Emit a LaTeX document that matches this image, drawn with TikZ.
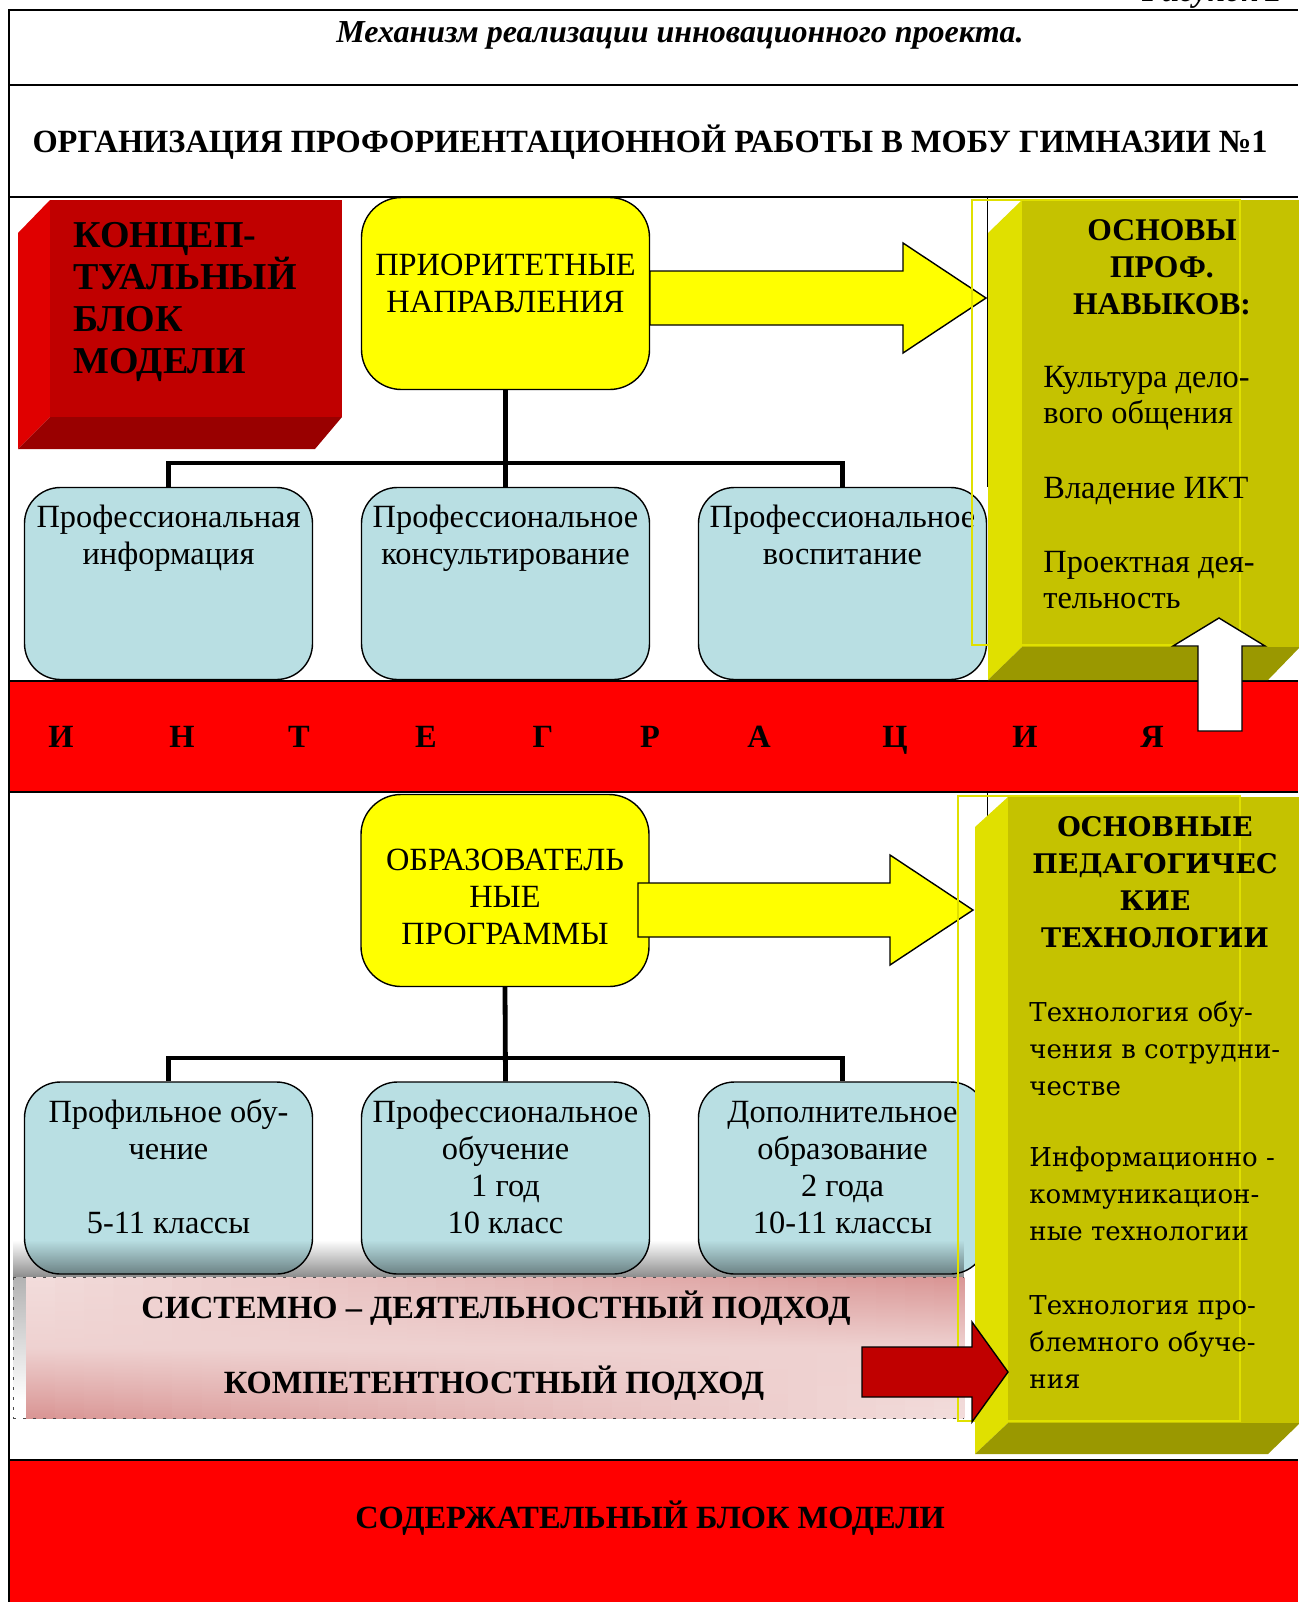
\documentclass[tikz,border=0pt]{standalone}
\usepackage{fontspec}
\setmainfont{Liberation Serif}
\newfontfamily\wideserif{DejaVu Serif}
\usetikzlibrary{positioning,calc,fadings}

\definecolor{conceptfront}{HTML}{C00000}
\definecolor{conceptside}{HTML}{E00000}
\definecolor{conceptbottom}{HTML}{990000}
\definecolor{olivefront}{HTML}{C5C200}
\definecolor{oliveside}{HTML}{E0E000}
\definecolor{olivebottom}{HTML}{9A9800}
\definecolor{boxblue}{HTML}{B9DFE3}
\definecolor{boxyellow}{HTML}{FFFF00}
\definecolor{bandred}{HTML}{FF0000}
\definecolor{pinkdark}{HTML}{D99594}
\definecolor{pinklight}{HTML}{F2DCDB}

\begin{document}
\begin{tikzpicture}[x=0.5pt,y=-0.5pt,
    frameline/.style={line width=1.2pt},
    treeline/.style={line width=2.4pt},
    yellowbox/.style={draw, fill=boxyellow, rounded corners=20pt, line width=0.7pt, minimum width=144pt, minimum height=96pt, inner sep=0pt},
    bluebox/.style={draw, fill=boxblue, rounded corners=18pt, line width=0.7pt, minimum width=144pt, minimum height=96pt, inner sep=0pt},
    blockarrow/.style={draw, line width=0.7pt},
    boxtext/.style={font=\fontsize{16.2}{18.4}\selectfont, align=center, anchor=base, inner sep=0pt},
    capstext/.style={font=\bfseries\fontsize{16.2}{19}\selectfont, anchor=base, inner sep=0pt},
    titletext/.style={font=\bfseries\itshape\fontsize{16}{19}\selectfont, anchor=base, inner sep=0pt},
    concepttext/.style={font=\bfseries\fontsize{19}{21}\selectfont, align=left, anchor=base west, inner sep=0pt},
    skillhead/.style={font=\bfseries\fontsize{15.8}{18.5}\selectfont, align=center, anchor=base, inner sep=0pt},
    skillitem/.style={font=\fontsize{16.2}{17.8}\selectfont, align=left, anchor=base west, inner sep=0pt},
    techhead/.style={font=\wideserif\bfseries\fontsize{13.5}{18.5}\selectfont, align=center, anchor=base, inner sep=0pt},
    techitem/.style={font=\wideserif\fontsize{13}{18.5}\selectfont, align=left, anchor=base west, inner sep=0pt}
  ]
  \useasboundingbox (0,0) rectangle (1298,1602);

  % red bands and frame
  \fill[bandred] (9,681) rectangle (1298,792);
  \fill[bandred] (9,1460) rectangle (1298,1602);
  \draw[frameline] (9,1602) -- (9,10) -- (1298,10);
  \foreach \y in {85,197,681,792,1460} \draw[frameline] (9,\y) -- (1298,\y);

  \node[titletext, anchor=base east] (figno) at (1282,1) {Рисунок 2};
  \node[titletext] (title) at (680,42) {Механизм реализации инновационного проекта.};
  \node[capstext] (org) at (650,152) {ОРГАНИЗАЦИЯ ПРОФОРИЕНТАЦИОННОЙ РАБОТЫ В МОБУ ГИМНАЗИИ №1};

  % conceptual block
  \fill[conceptside] (50,200) -- (18,233) -- (18,449) -- (50,417) -- cycle;
  \fill[conceptbottom] (50,417) -- (342,417) -- (315,449) -- (18,449) -- cycle;
  \fill[conceptfront] (50,200) rectangle (342,417);
  \node[concepttext] (concept) at (73,373) {КОНЦЕП-\\ТУАЛЬНЫЙ\\БЛОК\\МОДЕЛИ};

  % priority directions
  \draw[line width=0.5pt] (987,197) -- (987,487);
  \node[yellowbox] (prio) at (505.5,293.5) {};
  \node[bluebox] (info) at (168.5,583.5) {};
  \node[bluebox] (cons) at (505.5,583.5) {};
  \node[bluebox] (vosp) at (842.5,583.5) {};
  \coordinate (fork1) at (505.5,463);
  \draw[treeline] (prio.south) -- (cons.north);
  \draw[treeline] (info.north) |- (fork1) -| (vosp.north);
  \node[boxtext] (priotxt) at (prio.center |- 0,312) {ПРИОРИТЕТНЫЕ\\НАПРАВЛЕНИЯ};
  \node[boxtext] (infotxt) at (info.center |- 0,564) {Профессиональная\\информация};
  \node[boxtext] (constxt) at (cons.center |- 0,564) {Профессиональное\\консультирование};
  \node[boxtext] (vosptxt) at (vosp.center |- 0,564) {Профессиональное\\воспитание};
  \draw[blockarrow, fill=boxyellow] (650,271) -- (903,271) -- (903,243) -- (986,298) -- (903,353) -- (903,325) -- (650,325) -- cycle;

  % skills block
  \fill[oliveside] (1022,200) -- (988,233) -- (988,680) -- (1022,647) -- cycle;
  \fill[olivebottom] (1022,647) -- (1300,647) -- (1268,680) -- (988,680) -- cycle;
  \fill[olivefront] (1022,200) rectangle (1300,647);
  \draw[oliveside, line width=1pt] (972,200) rectangle (1240,645);
  \node[skillhead] (skills) at (1162,314) {ОСНОВЫ\\ПРОФ.\\НАВЫКОВ:};
  \node[skillitem] (skill1) at (1043,423) {Культура дело-\\вого общения};
  \node[skillitem] (skill2) at (1043,498) {Владение ИКТ};
  \node[skillitem] (skill3) at (1043,608) {Проектная дея-\\тельность};
  \draw[blockarrow, fill=white] (1198,731) -- (1198,646) -- (1173,646) -- (1219,618) -- (1265,646) -- (1242,646) -- (1242,731) -- cycle;

  % integration
  \foreach \x/\l [count=\i] in {61/И,182/Н,299/Т,426/Е,543/Г,650/Р,759/А,895/Ц,1025/И,1152/Я}
    \node[capstext] (int\i) at (\x,747) {\l};

  % educational programmes
  \draw[line width=0.5pt] (987,792) -- (987,830);
  \node[yellowbox] (educ) at (505,890.5) {};
  \node[bluebox] (profil) at (168.5,1178) {};
  \node[bluebox] (profob) at (505.5,1178) {};
  \node[bluebox] (dopobr) at (842.5,1178) {};
  \coordinate (fork2) at (505.5,1058);
  \draw[treeline] (educ.south) -- (profob.north);
  \draw[treeline] (profil.north) |- (fork2) -| (dopobr.north);
  \node[boxtext] (eductxt) at (educ.center |- 0,944) {ОБРАЗОВАТЕЛЬ\\НЫЕ\\ПРОГРАММЫ};
  \node[boxtext] (profiltxt) at (profil.center |- 0,1233) {Профильное обу-\\чение\\[18.4pt]5-11 классы};
  \node[boxtext] (profobtxt) at (profob.center |- 0,1233) {Профессиональное\\обучение\\1 год\\10 класс};
  \node[boxtext] (dopobrtxt) at (dopobr.center |- 0,1233) {Дополнительное\\образование\\2 года\\10-11 классы};
  \draw[blockarrow, fill=boxyellow] (638,883) -- (890,883) -- (890,855) -- (973,910) -- (890,965) -- (890,937) -- (638,937) -- cycle;

  % approaches
  \fill[black, opacity=.45, path fading=north] (13,1240) rectangle (964,1277);
  \fill[black, opacity=.3, path fading=south] (13,1277) rectangle (26,1400);
  \foreach \i in {0,...,31}{
    \pgfmathtruncatemacro{\p}{100-\i*100/31}
    \pgfmathsetmacro{\xa}{26+\i*29.3125}
    \shade[top color=pinklight!\p!pinkdark, bottom color=pinkdark!\p!pinklight, middle color=pinklight!85!pinkdark] (\xa,1277) rectangle ++(29.8,141);
  }
  \draw[black!70, line width=0.5pt, dash pattern=on 1.5pt off 3.5pt] (13,1277) -- (964,1277) (13,1418) -- (964,1418) (13,1277) -- (13,1418);
  \node[capstext] (appr1) at (496,1318) {СИСТЕМНО – ДЕЯТЕЛЬНОСТНЫЙ ПОДХОД};
  \node[capstext] (appr2) at (494,1393) {КОМПЕТЕНТНОСТНЫЙ ПОДХОД};

  % technologies block
  \fill[oliveside] (1008,797) -- (975,827) -- (975,1454) -- (1008,1423) -- cycle;
  \fill[olivebottom] (1008,1423) -- (1300,1423) -- (1268,1454) -- (975,1454) -- cycle;
  \fill[olivefront] (1008,797) rectangle (1300,1423);
  \draw[oliveside, line width=1pt] (958,796) rectangle (1240,1421);
  \node[techhead] (tech) at (1155,947) {ОСНОВНЫЕ\\ПЕДАГОГИЧЕС\\КИЕ\\ТЕХНОЛОГИИ};
  \node[techitem] (tech1) at (1029,1095) {Технология обу-\\чения в сотрудни-\\честве};
  \node[techitem] (tech2) at (1029,1240) {Информационно -\\коммуникацион-\\ные технологии};
  \node[techitem] (tech3) at (1029,1388) {Технология про-\\блемного обуче-\\ния};
  \draw[blockarrow, fill=conceptfront] (862,1347) -- (972,1347) -- (972,1322) -- (1008,1372) -- (972,1422) -- (972,1397) -- (862,1397) -- cycle;

  \node[capstext] (content) at (650,1528) {СОДЕРЖАТЕЛЬНЫЙ БЛОК МОДЕЛИ};
\end{tikzpicture}
\end{document}
